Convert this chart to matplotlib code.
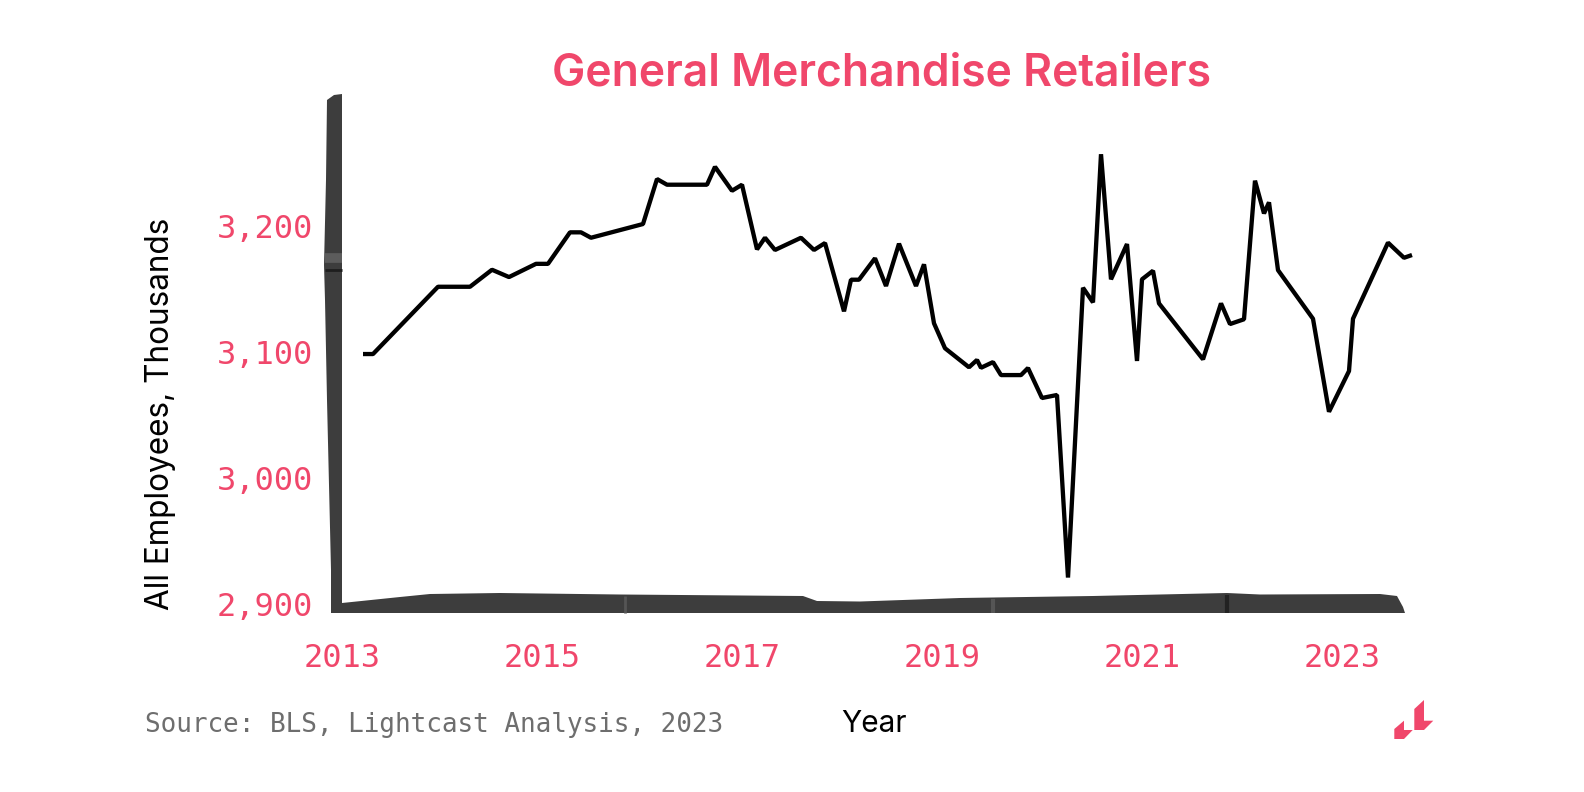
import matplotlib
matplotlib.use('Agg')
import matplotlib.pyplot as plt
from matplotlib.patches import Polygon

W, H = 1584, 792
RED = '#F0476B'
DARK = '#3d3d3d'

# values (year, thousands of employees)
series = [
    (2013.21, 3098.4), (2013.31, 3098.4), (2013.96, 3151.8), (2014.28, 3151.8),
    (2014.50, 3165.3), (2014.67, 3159.5), (2014.94, 3170.0), (2015.06, 3170.0),
    (2015.28, 3195.0), (2015.39, 3195.0), (2015.49, 3190.7), (2016.01, 3201.6),
    (2016.15, 3237.3), (2016.25, 3232.8), (2016.65, 3232.8), (2016.73, 3247.0),
    (2016.90, 3228.0), (2017.00, 3232.8), (2017.15, 3181.5), (2017.23, 3190.7),
    (2017.33, 3181.0), (2017.59, 3190.7), (2017.72, 3181.0), (2017.83, 3186.5),
    (2018.02, 3132.3), (2018.09, 3157.4), (2018.17, 3157.4), (2018.33, 3174.4),
    (2018.44, 3152.4), (2018.57, 3186.0), (2018.74, 3152.4), (2018.82, 3169.6),
    (2018.92, 3122.8), (2019.03, 3103.0), (2019.27, 3087.9), (2019.35, 3093.7),
    (2019.39, 3087.5), (2019.51, 3092.0), (2019.59, 3081.7), (2019.79, 3081.7),
    (2019.86, 3087.3), (2020.00, 3063.5), (2020.15, 3065.9), (2020.26, 2921.0),
    (2020.41, 3151.0), (2020.51, 3139.4), (2020.59, 3257.0), (2020.69, 3157.7),
    (2020.85, 3185.7), (2020.95, 3092.9), (2021.00, 3157.7), (2021.11, 3164.5),
    (2021.17, 3138.6), (2021.61, 3094.2), (2021.79, 3138.6), (2021.88, 3122.2),
    (2022.02, 3126.0), (2022.13, 3236.0), (2022.22, 3210.0), (2022.27, 3218.8),
    (2022.36, 3165.0), (2022.71, 3126.4), (2022.87, 3052.6), (2023.07, 3084.9),
    (2023.11, 3126.4), (2023.46, 3186.8), (2023.62, 3174.8), (2023.70, 3177.0),
]
years = [p[0] for p in series]
values = [p[1] for p in series]


def px(x, y):
    # picture pixels to figure fraction
    return x / W, 1 - y / H


fig = plt.figure(figsize=(W / 100, H / 100), dpi=100, facecolor='white')
ax = fig.add_axes([342 / W, 1 - 604 / H, (1420 - 342) / W, (604 - 94) / H])
ax.patch.set_visible(False)
for s in ax.spines.values():
    s.set_visible(False)

ax.plot(years, values, color='black', lw=3.1, solid_joinstyle='bevel', solid_capstyle='butt')
ax.set_xlim(2013, 2023.78)
ax.set_ylim(2900, 3304.8)

ax.set_xticks([2013, 2015, 2017, 2019, 2021, 2023])
ax.set_yticks([2900, 3000, 3100, 3200])
ax.set_yticklabels(['2,900', '3,000', '3,100', '3,200'])
ax.tick_params(length=0, labelcolor=RED, labelsize=23)
ax.tick_params(axis='x', pad=28)
ax.tick_params(axis='y', pad=21)
for lab in ax.get_xticklabels() + ax.get_yticklabels():
    lab.set_family('DejaVu Sans Mono')

# hand-drawn looking axes, the scanned strip in the original
outline = [(342, 94), (334, 95), (327, 100), (326, 180), (324, 265), (325, 300),
           (327, 400), (331, 570), (331, 613), (1405, 613), (1403, 607), (1397, 596),
           (1380, 594), (1260, 594.5), (1227, 593), (1093, 596), (960, 598),
           (860, 601.5), (817, 601), (803, 596), (620, 594.5), (500, 593),
           (430, 594), (400, 597), (342, 603)]
fig.add_artist(Polygon([px(*p) for p in outline], closed=True, transform=fig.transFigure,
                       facecolor=DARK, edgecolor='none'))
# seams in the strip
for a, b, c, lw in [((325, 270), (342, 270), '#1e1e1e', 2),
                    ((325, 258), (342, 258), '#5c5c5c', 7),
                    ((1227, 595), (1227, 613), '#222222', 3),
                    ((625, 596), (625, 613), '#555555', 2),
                    ((993, 599), (993, 613), '#555555', 3)]:
    fig.add_artist(plt.Line2D(*zip(px(*a), px(*b)), color=c, lw=lw, solid_capstyle='butt',
                              transform=fig.transFigure))

x, y = px(881, 74)
fig.text(x, y, 'General Merchandise Retailers', color=RED, family='Inter', weight='semibold',
         fontsize=32, ha='center', va='center')
x, y = px(160, 414)
fig.text(x, y, 'All Employees, Thousands', color='black', family='Inter', fontsize=22.7,
         rotation=90, ha='center', va='center')
x, y = px(874, 724)
fig.text(x, y, 'Year', color='black', family='Inter', fontsize=21.5, ha='center', va='center')
x, y = px(145, 725)
fig.text(x, y, 'Source: BLS, Lightcast Analysis, 2023', color='#6e6e6e',
         family='DejaVu Sans Mono', fontsize=18.7, ha='left', va='center')

# logo
for shape in ([(1394.3, 729), (1404, 720.7), (1404, 730), (1412.7, 730), (1404, 739), (1394.3, 739)],
              [(1414.3, 709), (1424, 700), (1424, 720.7), (1433.3, 720.7), (1424, 730), (1414.3, 730)]):
    fig.add_artist(Polygon([px(*p) for p in shape], closed=True, transform=fig.transFigure,
                           facecolor=RED, edgecolor='none'))

fig.savefig('out.png', dpi=100)
